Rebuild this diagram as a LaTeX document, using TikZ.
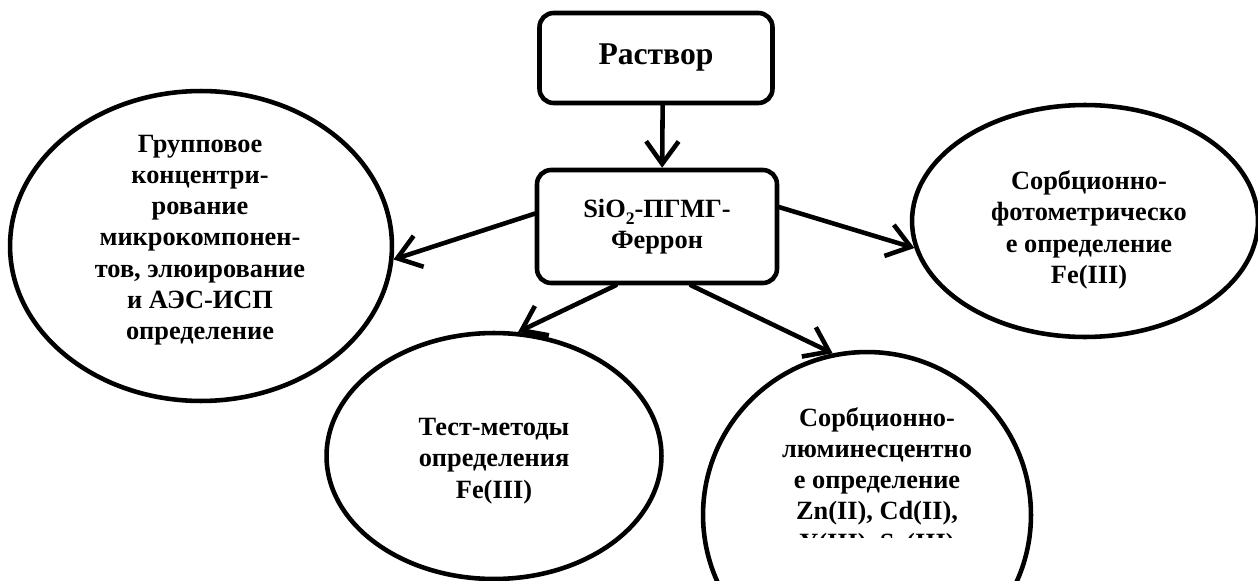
\documentclass[tikz,border=0pt]{standalone}
\usepackage{fontspec}
\setmainfont{Liberation Serif}
\usetikzlibrary{arrows.meta, shapes.geometric}

\begin{document}
\begin{tikzpicture}[x=0.02cm, y=-0.02cm, line width=2.6pt, font=\fontsize{15}{17.8}\selectfont\bfseries]
  \tikzset{
    box/.style={draw, rounded corners=8pt, align=center, inner sep=0pt},
    oval/.style={draw, ellipse, align=center, inner sep=0pt},
    link/.style={-{Straight Barb[length=4.5mm, width=6.5mm]}, line cap=round, line join=round}
  }
  \path[use as bounding box, clip] (0,0) rectangle (1258,581);
  \node[box, minimum width=4.66cm, minimum height=1.8cm, font=\fontsize{18}{20}\selectfont\bfseries] (sol) at (656,58) {Раствор};
  \node[box, minimum width=4.8cm, minimum height=2.26cm] (sorb) at (657,226.5) {SiO\raisebox{-4pt}{\fontsize{10}{10}\selectfont 2}-ПГМГ-\\Феррон};
  \node[oval, minimum width=7.64cm, minimum height=6.2cm] (group) at (201,246) {};
  \node[align=center] at (200,240) {Групповое\\концентри-\\рование\\микрокомпонен-\\тов, элюирование\\и АЭС-ИСП\\определение};
  \node[oval, minimum width=6.92cm, minimum height=4.64cm] (photo) at (1085,221) {};
  \node[align=center] at (1089,230) {Сорбционно-\\фотометрическо\\е определение\\Fe(III)};
  \node[oval, minimum width=6.7cm, minimum height=4.92cm] (test) at (494,456) {};
  \node[align=center] at (494,461) {Тест-методы\\определения\\Fe(III)};
  \node[oval, minimum width=6.56cm, minimum height=6.52cm] (lum) at (867,515) {};
  \begin{scope}
    \clip (650,360) rectangle (1100,537);
    \node[align=center, anchor=north, inner sep=0pt] (lumtext) at (877,405) {Сорбционно-\\люминесцентно\\е определение\\Zn(II), Cd(II),\\Y(III), Sc(III)};
  \end{scope}
  \draw[link] (sol.-82) -- (sorb.85);
  \draw[link] (sorb.174) -- (group.-4);
  \draw[link] (sorb.9) -- (photo.189);
  \draw[link] (sorb.235) -- (test.79);
  \draw[link] (sorb.-60) -- (lum.102);
\end{tikzpicture}
\end{document}
